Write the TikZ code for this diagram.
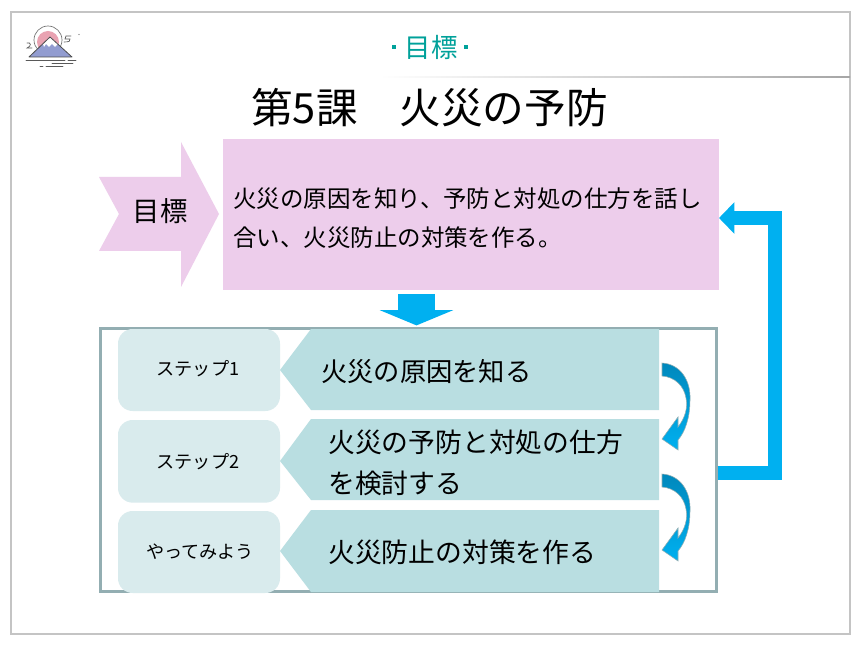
\documentclass[tikz,border=0pt]{standalone}
\usepackage{fontspec}
\setmainfont{Noto Sans CJK JP}
\usetikzlibrary{arrows.meta,calc,shadings}
\definecolor{pinkbox}{HTML}{EDCDEB}
\definecolor{stepbg}{HTML}{D9EBED}
\definecolor{tealbg}{HTML}{B9DEE1}
\definecolor{framec}{HTML}{93AEB2}
\definecolor{skyb}{HTML}{00B0F0}
\definecolor{deepb}{HTML}{0088BC}
\definecolor{titlec}{HTML}{00A19A}
\definecolor{outerc}{HTML}{C4C4C4}
\definecolor{sunc}{HTML}{E9A3B2}
\definecolor{mountc}{HTML}{929CD0}
\tikzset{
  txt/.style={inner sep=0pt,text=black,anchor=west},
  stepbox/.style={fill=stepbg,rounded corners=11pt,draw=none,outer sep=0pt,inner sep=0pt,minimum width=121.5pt,anchor=north west},
  steplabel/.style={inner sep=0pt,text=black,font=\fontsize{13.6}{16}\selectfont},
  tealtxt/.style={txt,align=left,font=\fontsize{20.1}{31}\selectfont},
  tealarrow/.style={fill=tealbg,draw=none},
  curved/.style={top color=deepb,bottom color=skyb,draw=framec,line width=.4pt},
  bigarrow/.style={skyb,draw=skyb},
  logoline/.style={draw=black!65,line width=.6pt,line cap=round}
}
\begin{document}
\begin{tikzpicture}[x=.75pt,y=-.75pt]
\useasboundingbox (0,0) rectangle (860,645);
\fill[white] (0,0) rectangle (860,645);
\draw[outerc,line width=1.6pt] (11,12) rectangle (850,634);
% top rule
\shade[left color=white,right color=black!35] (380,76.5) rectangle (850,78);
% header
\node[inner sep=0pt,text=titlec,font=\fontsize{19.8}{24}\selectfont] (hdr) at (431,47) {目標};
\fill[titlec] (392,45) rectangle (396,49);
\fill[titlec] (464,45) rectangle (468,49);
% logo
\begin{scope}
  \draw[black!55,line width=.5pt,fill=white] (48,40) circle (14);
  \fill[sunc] (48,42) circle (11);
  \fill[mountc] (29,57) -- (50,37) -- (72,57) -- cycle;
  \fill[white] (43,44) -- (50,37) -- (58,44) -- (55,47) -- (52,44) -- (49,47) -- (46,44) -- (44,47) -- cycle;
  \draw[black!70,line width=.6pt,line join=round] (29,57) -- (50,37) -- (72,57) -- cycle;
  \draw[logoline] (26,60) -- (65,60) (68,60) -- (76,60) (52,63) -- (73,63) (46,66) -- (63,66) (40,66) -- (43,66);
  \draw[logoline,line width=.5pt] (27,43) .. controls (31,42) and (32,46) .. (27,48) -- (32,48);
  \draw[logoline,line width=.5pt] (71,36) -- (66,36) -- (65,39) -- (70,39) .. controls (71,41) and (69,42) .. (64,42);
  \fill[black!60] (79,34.5) circle (.6);
\end{scope}
% title
\node[txt,font=\fontsize{31.25}{36}\selectfont] (title) at (251,108) {第5課　火災の予防};
% goal arrow
\fill[pinkbox] (99,177) -- (181,177) -- (181,142) -- (219,214) -- (181,287) -- (181,251) -- (99,251) -- (119,214) -- cycle;
\node[inner sep=0pt,text=black,font=\fontsize{20.5}{24}\selectfont] (goallabel) at (160,211) {目標};
% goal box
\node[fill=pinkbox,inner sep=0pt,outer sep=0pt,minimum width=372pt,minimum height=113.25pt,anchor=north west] (goal) at (223,139) {};
\node[txt,align=left,font=\fontsize{17.6}{29.7}\selectfont] (goaltxt) at (233,218) {火災の原因を知り、予防と対処の仕方を話し\\合い、火災防止の対策を作る。};
% frame
\node[draw=framec,line width=2pt,inner sep=0pt,outer sep=0pt,minimum width=462pt,minimum height=197.5pt,anchor=center] (frame) at (408.5,460) {};
% steps
\node[stepbox,minimum height=61.5pt] (s1) at (118,329) {};
\node[stepbox,minimum height=62pt] (s2) at (118,420) {};
\node[stepbox,minimum height=61.5pt] (s3) at (118,511) {};
\node[steplabel] (l1) at (198,369) {ステップ1};
\node[steplabel] (l2) at (198,462) {ステップ2};
\node[steplabel,font=\fontsize{13.6}{16}\selectfont] (l3) at (200,552) {やってみよう};
\fill[tealarrow] (280,370) -- (311,329) -- (659,329) -- (659,410) -- (311,410) -- cycle;
\fill[tealarrow] (280,461) -- (311,419) -- (659,419) -- (659,500) -- (311,500) -- cycle;
\fill[tealarrow] (280,551) -- (311,510) -- (659,510) -- (659,592) -- (311,592) -- cycle;
\node[tealtxt,font=\fontsize{19.7}{31}\selectfont] (t1) at (321,372) {火災の原因を知る};
\node[tealtxt] (t2) at (328,463) {火災の予防と対処の仕方\\を検討する};
\node[tealtxt] (t3) at (328,552) {火災防止の対策を作る};
% curved arrows
\foreach \dy in {0,111}{
  \begin{scope}[shift={(0,\dy)}]
    \path[curved] (662,363) .. controls (680,364) and (691,380) .. (690,400)
      .. controls (690,418) and (685,432) .. (678,440) -- (678,450) -- (662,439) -- (678,417) -- (678,427)
      .. controls (685,418) and (688,408) .. (686,398) .. controls (684,386) and (675,377) .. (662,376) -- cycle;
  \end{scope}
}
% block arrow down
\draw[bigarrow,line width=27.5pt,shorten <=3pt,shorten >=2.2pt,-{Triangle[length=11.5pt,width=55pt]}] (goal.south -| 416.5,0) -- (frame.north -| 416.5,0);
% feedback arrow
\coordinate (fb) at (775,473);
\coordinate (fc) at (775,218);
\draw[bigarrow,line width=9.8pt,miter limit=10,-{Triangle[length=11.5pt,width=23pt]}] ($(frame.east|-fb)+(1,0)$) -- (fb) -- (fc) -- (goal.east|-fc);
\end{tikzpicture}
\end{document}
